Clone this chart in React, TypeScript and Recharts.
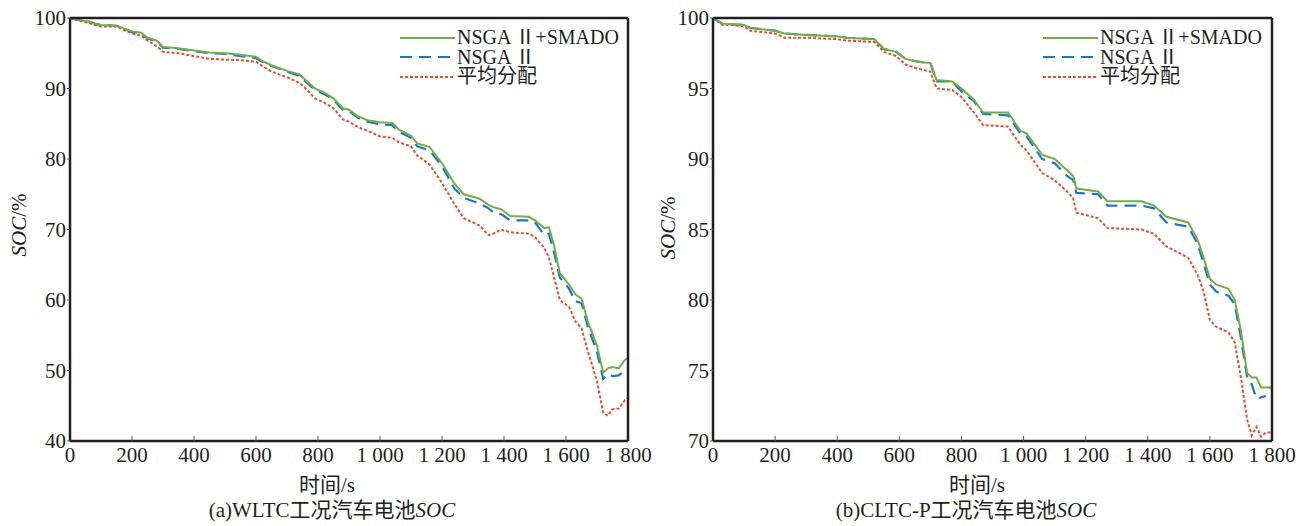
import React from 'react';
import { LineChart, Line, XAxis, YAxis, Legend } from 'recharts';

// WLTC (a)
const wltcTime = [0, 30, 60, 80, 100, 150, 170, 200, 230, 250, 280, 300, 350, 400, 450, 500, 550, 600, 620, 650, 700, 740, 760, 790, 820, 850, 880, 900, 930, 960, 1000, 1040, 1060, 1100, 1120, 1160, 1200, 1240, 1270, 1320, 1350, 1370, 1390, 1420, 1480, 1500, 1530, 1545, 1560, 1580, 1610, 1630, 1650, 1670, 1700, 1720, 1735, 1750, 1770, 1790, 1800];
const wltcSmado = [100, 99.7, 99.5, 99.2, 99.0, 98.9, 98.6, 98.1, 97.9, 97.2, 96.8, 95.9, 95.7, 95.4, 95.1, 95.0, 94.8, 94.5, 93.9, 93.3, 92.5, 92.0, 91.2, 90.0, 89.4, 88.6, 87.2, 87.0, 86.0, 85.5, 85.2, 85.1, 84.2, 83.3, 82.2, 81.7, 79.4, 76.5, 75.0, 74.4, 73.5, 73.1, 72.9, 71.9, 71.8, 71.3, 70.2, 70.3, 68.0, 63.8, 62.2, 60.8, 60.2, 57.0, 53.5, 49.7, 50.3, 50.5, 50.3, 51.5, 51.8];
const wltcNsga = [100, 99.7, 99.5, 99.2, 99.0, 98.9, 98.6, 98.0, 97.8, 97.1, 96.7, 95.8, 95.6, 95.3, 95.0, 94.9, 94.6, 94.3, 93.8, 93.2, 92.4, 91.8, 91.0, 89.8, 89.2, 88.4, 87.0, 86.8, 85.8, 85.3, 84.9, 84.8, 83.9, 83.0, 81.8, 81.2, 79.0, 75.8, 74.5, 73.7, 73.0, 72.3, 72.2, 71.3, 71.3, 71.0, 69.2, 69.4, 67.0, 63.2, 61.6, 59.8, 59.6, 56.3, 52.6, 48.8, 49.5, 49.2, 49.3, 50.0, 50.2];
const wltcAvg = [100, 99.6, 99.3, 99.0, 98.8, 98.8, 98.4, 97.8, 97.5, 96.8, 96.0, 95.2, 95.0, 94.6, 94.2, 94.1, 94.0, 93.8, 93.2, 92.4, 91.6, 90.8, 90.0, 88.6, 88.0, 87.2, 85.6, 85.3, 84.5, 84.0, 83.2, 83.0, 82.4, 81.8, 80.5, 79.2, 76.6, 73.6, 71.6, 70.6, 69.2, 69.5, 70.0, 69.6, 69.4, 68.9, 67.4, 66.0, 63.5, 60.0, 59.0, 57.0, 56.0, 52.8, 48.5, 44.0, 43.6, 44.5, 44.6, 45.8, 46.1];
const wltcYTicks = [40, 50, 60, 70, 80, 90, 100];

// CLTC-P (b)
const cltcTime = [0, 30, 60, 100, 120, 200, 230, 300, 400, 430, 520, 550, 590, 620, 660, 700, 720, 770, 800, 840, 870, 950, 990, 1010, 1060, 1100, 1140, 1160, 1170, 1240, 1270, 1380, 1420, 1460, 1530, 1560, 1580, 1600, 1620, 1660, 1680, 1700, 1720, 1735, 1750, 1765, 1780, 1800];
const cltcSmado = [100, 99.6, 99.55, 99.5, 99.3, 99.1, 98.9, 98.8, 98.7, 98.6, 98.5, 97.8, 97.6, 97.1, 96.9, 96.8, 95.6, 95.5, 95.0, 94.2, 93.3, 93.3, 92.0, 91.8, 90.3, 90.0, 89.2, 88.8, 87.9, 87.7, 87.0, 87.0, 86.7, 85.9, 85.5, 84.3, 83.0, 81.5, 81.1, 80.8, 80.0, 77.8, 74.8, 74.5, 74.5, 73.8, 73.8, 73.8];
const cltcNsga = [100, 99.6, 99.55, 99.5, 99.3, 99.1, 98.9, 98.8, 98.7, 98.6, 98.5, 97.8, 97.6, 97.1, 96.9, 96.8, 95.5, 95.5, 94.8, 94.1, 93.2, 93.1, 91.8, 91.6, 90.0, 89.7, 88.8, 88.5, 87.6, 87.5, 86.7, 86.7, 86.5, 85.5, 85.2, 84.0, 82.6, 81.1, 80.6, 80.3, 79.7, 77.3, 74.5, 74.0, 73.0, 73.1, 73.2, null];
const cltcAvg = [100, 99.5, 99.5, 99.4, 99.1, 98.9, 98.6, 98.6, 98.5, 98.4, 98.3, 97.6, 97.3, 96.7, 96.4, 96.2, 95.0, 94.9, 94.4, 93.3, 92.4, 92.3, 91.0, 90.6, 89.0, 88.5, 87.7, 87.2, 86.2, 85.8, 85.1, 85.0, 84.7, 83.8, 83.0, 81.8, 80.6, 78.6, 78.1, 77.7, 77.0, 74.5, 71.5, 70.4, 71.0, 70.3, 70.6, 70.6];
const cltcYTicks = [70, 75, 80, 85, 90, 95, 100];

const xTicks = [0, 200, 400, 600, 800, 1000, 1200, 1400, 1600, 1800];
const seriesNames = ['NSGA Ⅱ+SMADO', 'NSGA Ⅱ', '平均分配'];

const GREEN = '#72ad45';
const BLUE = '#1f78c4';
const RED = '#e0522f';
const INK = '#231f20';
const FONT = "'Liberation Serif', 'Noto Sans CJK SC', serif";

function buildRows(time: number[], a: any[], b: any[], c: any[]) {
  return time.map((t, i) => ({ t, smado: a[i], nsga: b[i], avg: c[i] }));
}

function fmtX(v: number) {
  if (v >= 1000) {
    const s = String(v);
    return s.slice(0, s.length - 3) + ' ' + s.slice(-3);
  }
  return String(v);
}

function LegendBox() {
  const rows = [
    { name: seriesNames[0], color: GREEN, dash: undefined },
    { name: seriesNames[1], color: BLUE, dash: '12 7' },
    { name: seriesNames[2], color: RED, dash: '3 2' },
  ];
  return (
    <div style={{ fontFamily: FONT, fontSize: 20, color: INK }}>
      {rows.map((r) => (
        <div key={r.name} style={{ display: 'flex', alignItems: 'center', height: 19.5, lineHeight: '19.5px', whiteSpace: 'nowrap' }}>
          <svg width={55} height={6} style={{ marginRight: 2 }}>
            <line x1={0} x2={55} y1={3} y2={3} stroke={r.color} strokeWidth={2} strokeDasharray={r.dash} />
          </svg>
          <span>{r.name}</span>
        </div>
      ))}
    </div>
  );
}

function Panel({ rows, yDomain, yTicks, width, left, legendLeft, marginLeft, marginRight }: any) {
  const tickStyle = { fill: INK, fontSize: 21, fontFamily: FONT };
  return (
    <div style={{ position: 'absolute', left, top: 0 }}>
      <LineChart
        width={width}
        height={526}
        data={rows}
        margin={{ top: 17, right: marginRight, left: marginLeft, bottom: 84 }}
      >
        <XAxis
          xAxisId="b"
          dataKey="t"
          type="number"
          domain={[0, 1800]}
          ticks={xTicks}
          tickFormatter={fmtX}
          height={1}
          axisLine={{ stroke: INK, strokeWidth: 2.5 }}
          tickLine={{ stroke: '#555', strokeWidth: 1 }}
          tickSize={-5}
          tickMargin={11}
          tick={tickStyle}
          interval={0}
        />
        <XAxis
          xAxisId="t"
          orientation="top"
          dataKey="t"
          type="number"
          domain={[0, 1800]}
          ticks={xTicks}
          height={1}
          axisLine={{ stroke: INK, strokeWidth: 2.5 }}
          tickLine={{ stroke: '#555', strokeWidth: 1 }}
          tickSize={-5}
          tick={false}
        />
        <YAxis
          yAxisId="l"
          type="number"
          domain={yDomain}
          ticks={yTicks}
          width={1}
          axisLine={{ stroke: INK, strokeWidth: 2.5 }}
          tickLine={{ stroke: '#555', strokeWidth: 1 }}
          tickSize={3}
          tickMargin={1}
          tick={tickStyle}
          interval={0}
        />
        <YAxis
          yAxisId="r"
          orientation="right"
          type="number"
          domain={yDomain}
          ticks={yTicks}
          width={1}
          axisLine={{ stroke: INK, strokeWidth: 2.5 }}
          tickLine={{ stroke: '#555', strokeWidth: 1 }}
          tickSize={-5}
          tick={false}
        />
        <Legend
          layout="vertical"
          align="center"
          verticalAlign="middle"
          content={() => <LegendBox />}
          wrapperStyle={{ left: legendLeft, top: 28, width: 'auto' }}
        />
        <Line xAxisId="b" yAxisId="l" type="linear" dataKey="avg" name={seriesNames[2]} stroke={RED} strokeWidth={2} strokeDasharray="3 2" dot={false} isAnimationActive={false} />
        <Line xAxisId="b" yAxisId="l" type="linear" dataKey="nsga" name={seriesNames[1]} stroke={BLUE} strokeWidth={2.2} strokeDasharray="12 7" dot={false} isAnimationActive={false} />
        <Line xAxisId="b" yAxisId="l" type="linear" dataKey="smado" name={seriesNames[0]} stroke={GREEN} strokeWidth={2} dot={false} isAnimationActive={false} />
      </LineChart>
    </div>
  );
}

function Caption({ x, y, children, rotate }: any) {
  return (
    <div
      style={{
        position: 'absolute',
        left: x,
        top: y,
        transform: `translate(-50%, -50%)${rotate ? ' rotate(-90deg)' : ''}`,
        fontFamily: FONT,
        fontSize: 21,
        color: INK,
        whiteSpace: 'nowrap',
        lineHeight: 1,
      }}
    >
      {children}
    </div>
  );
}

export default function App() {
  const wltcRows = buildRows(wltcTime, wltcSmado, wltcNsga, wltcAvg);
  const cltcRows = buildRows(cltcTime, cltcSmado, cltcNsga, cltcAvg);
  return (
    <div style={{ position: 'absolute', left: 0, top: 0, width: 1301, height: 526, background: '#fff', overflow: 'hidden' }}>
      <Panel rows={wltcRows} yDomain={[40, 100]} yTicks={wltcYTicks} width={660} left={0} legendLeft={400} marginLeft={69} marginRight={31} />
      <Panel rows={cltcRows} yDomain={[70, 100]} yTicks={cltcYTicks} width={651} left={650} legendLeft={393} marginLeft={62} marginRight={28} />

      <Caption x={19} y={225} rotate><i>SOC</i>/%</Caption>
      <Caption x={668} y={228} rotate><i>SOC</i>/%</Caption>

      <Caption x={327} y={485}>时间/s</Caption>
      <Caption x={977} y={485}>时间/s</Caption>

      <Caption x={332} y={510}>(a)WLTC工况汽车电池<i>SOC</i></Caption>
      <Caption x={966} y={510}>(b)CLTC-P工况汽车电池<i>SOC</i></Caption>
    </div>
  );
}
